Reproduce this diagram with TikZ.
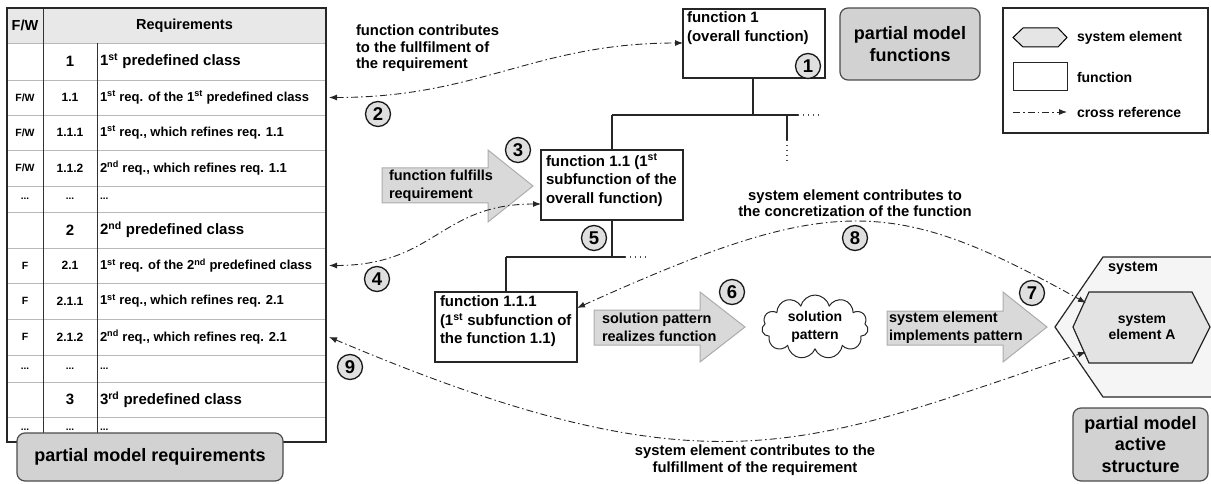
\documentclass[tikz,border=0pt]{standalone}
\usepackage{fontspec}
\setmainfont{Liberation Sans}
\usetikzlibrary{arrows.meta,shapes.symbols}

\newcommand\setfs[2]{\fontsize{#1}{#2}\selectfont\bfseries}

\begin{document}
\begin{tikzpicture}[x=1pt,y=-1pt,
  every node/.style={inner sep=0pt, outer sep=0pt},
  edge/.style={draw=black!85, line width=1.2pt},
  dotted edge/.style={draw=black!70, line width=1.1pt, dash pattern=on 1pt off 4pt},
  fbox/.style={draw=black!85, line width=1.3pt, fill=white, minimum width=142pt, minimum height=70pt},
  ftext/.style={font=\setfs{15}{18.5}, align=left, anchor=north west},
  note/.style={font=\setfs{14.8}{16.5}, align=left},
  pmbox/.style={draw=black!70, line width=1.2pt, fill=gray!35, rounded corners=8pt, font=\setfs{18}{21.5}, align=center},
  num/.style={circle, draw=black!90, line width=1.3pt, fill=gray!25, minimum size=25pt, font=\setfs{18.5}{18.5}},
  blockarrow/.style={draw=gray!65, line width=1pt, fill=gray!30},
  arrowtext/.style={font=\setfs{14.5}{17.5}, align=left, anchor=west},
  xref/.style={draw=black!85, line width=0.9pt, dash pattern=on 7pt off 3pt on 1.5pt off 3pt,
    {Latex[length=8pt,width=6pt]}-{Latex[length=8pt,width=6pt]}},
  thead/.style={font=\setfs{14.5}{16}},
  tfw/.style={font=\setfs{10.5}{12}},
  tnum/.style={font=\setfs{12}{14}},
  tcls/.style={font=\setfs{15}{17}},
  trow/.style={font=\setfs{13}{15}, anchor=west},
  tdots/.style={font=\setfs{10}{12}},
]
\useasboundingbox (0,0) rectangle (1211,484);
\clip (0,0) rectangle (1211,484);

% ---------------- requirements table ----------------
\fill[gray!18] (7,8) rectangle (326,43);
\foreach \y in {43,80,115,150,186,212,248,283,319,355,382,417}
  \draw[gray!55, line width=0.8pt] (7,\y) -- (326,\y);
\draw[black!80, line width=0.9pt] (43,8) -- (43,442);
\draw[black!80, line width=0.9pt] (97,43) -- (97,442);
\draw[black!85, line width=1.6pt] (7,8) rectangle (326,442);

\node[thead] (hfw)  at (25,25.5)  {F/W};
\node[thead] (hreq) at (184.5,25.5) {Requirements};

\node[tcls] (n1) at (70,61.5) {1};
\node[tcls, anchor=west] (t1) at (100,61.5) {1\textsuperscript{st} predefined class};

\node[tfw] (f11) at (25,97.5) {F/W};
\node[tnum] (n11) at (70,97.5) {1.1};
\node[trow] (t11) at (100,97.5) {1\textsuperscript{st} req. of the 1\textsuperscript{st} predefined class};

\node[tfw] (f111) at (25,132.5) {F/W};
\node[tnum] (n111) at (70,132.5) {1.1.1};
\node[trow] (t111) at (100,132.5) {1\textsuperscript{st} req., which refines req. 1.1};

\node[tfw] (f112) at (25,168) {F/W};
\node[tnum] (n112) at (70,168) {1.1.2};
\node[trow] (t112) at (100,168) {2\textsuperscript{nd} req., which refines req. 1.1};

\node[tdots] (fd1) at (25,199) {...};
\node[tdots] (nd1) at (70,199) {...};
\node[tdots, anchor=west] (td1) at (100,199) {...};

\node[tcls] (n2) at (70,230) {2};
\node[tcls, anchor=west] (t2) at (100,230) {2\textsuperscript{nd} predefined class};

\node[tfw] (f21) at (25,265.5) {F};
\node[tnum] (n21) at (70,265.5) {2.1};
\node[trow] (t21) at (100,265.5) {1\textsuperscript{st} req. of the 2\textsuperscript{nd} predefined class};

\node[tfw] (f211) at (25,301) {F};
\node[tnum] (n211) at (70,301) {2.1.1};
\node[trow] (t211) at (100,301) {1\textsuperscript{st} req., which refines req. 2.1};

\node[tfw] (f212) at (25,337) {F};
\node[tnum] (n212) at (70,337) {2.1.2};
\node[trow] (t212) at (100,337) {2\textsuperscript{nd} req., which refines req. 2.1};

\node[tdots] (fd2) at (25,368.5) {...};
\node[tdots] (nd2) at (70,368.5) {...};
\node[tdots, anchor=west] (td2) at (100,368.5) {...};

\node[tcls] (n3) at (70,399.5) {3};
\node[tcls, anchor=west] (t3) at (100,399.5) {3\textsuperscript{rd} predefined class};

\node[tdots] (fd3) at (25,429.5) {...};
\node[tdots] (nd3) at (70,429.5) {...};
\node[tdots, anchor=west] (td3) at (100,429.5) {...};

\coordinate (r11e)  at (329,97.5);
\coordinate (r21e)  at (329,265.5);
\coordinate (r212e) at (329,337);

\node[pmbox, minimum width=266pt, minimum height=48pt] (pmreq) at (150,457) {partial model requirements};

% ---------------- function hierarchy ----------------
\node[fbox, anchor=north west, minimum height=69pt] (fn1) at (683,9) {};
\node[ftext] (fn1t) at (687,12) {function 1\\(overall function)};

\node[fbox, anchor=north west] (fn11) at (541,150) {};
\node[ftext] (fn11t) at (546,154) {function 1.1 (1\textsuperscript{st}\\subfunction of the\\overall function)};

\node[fbox, anchor=north west] (fn111) at (435,292) {};
\node[ftext] (fn111t) at (440,296) {function 1.1.1\\(1\textsuperscript{st} subfunction of\\the function 1.1)};

\coordinate (j1)  at (753,115);
\coordinate (j1l) at (612,115);
\coordinate (j1r) at (798,115);
\coordinate (j1d) at (822,115);
\coordinate (b1)  at (787,115);
\coordinate (b1e) at (787,140);
\coordinate (b1d) at (787,162);
\coordinate (j2)  at (612,257);
\coordinate (j2l) at (506,257);
\coordinate (j2r) at (625,257);
\coordinate (j2d) at (647,257);

\draw[edge] (fn1.south -| j1) -- (j1);
\draw[edge] (j1l) -- (j1r);
\draw[dotted edge] (j1r) -- (j1d);
\draw[edge] (j1l) -- (fn11.north -| j1l);
\draw[edge] (b1) -- (b1e);
\draw[dotted edge] (b1e) -- (b1d);
\draw[edge] (fn11.south -| j2) -- (j2);
\draw[edge] (j2l) -- (j2r);
\draw[dotted edge] (j2r) -- (j2d);
\draw[edge] (j2l) -- (fn111.north -| j2l);

\node[pmbox, minimum width=140pt, minimum height=72pt] (pmfn) at (910,44) {partial model\\functions};

% ---------------- legend ----------------
\node[draw=black!85, line width=1.3pt, fill=white, minimum width=205pt, minimum height=125pt] (legend) at (1105.5,70.5) {};
\draw[line width=1pt, fill=gray!20] (1013,37.5) -- (1023,28) -- (1058,28) -- (1067,37.5) -- (1058,47) -- (1023,47) -- cycle;
\node[draw=black!85, line width=1pt, minimum width=54pt, minimum height=28pt] (legfn) at (1040,77) {};
\coordinate (legxa) at (1013,112);
\coordinate (legxb) at (1067,112);
\draw[draw=black!85, line width=0.9pt, dash pattern=on 7pt off 3pt on 1.5pt off 3pt, -{Latex[length=8pt,width=6pt]}] (legxa) -- (legxb);
\node[font=\setfs{14}{16}, anchor=west] (legt1) at (1077,37.5) {system element};
\node[font=\setfs{14}{16}, anchor=west] (legt2) at (1077,77) {function};
\node[font=\setfs{14}{16}, anchor=west] (legt3) at (1077,112) {cross reference};

% ---------------- active structure ----------------
\draw[black!85, line width=1.2pt, fill=gray!8] (1055,327) -- (1103,257) -- (1260,257) -- (1260,397) -- (1103,397) -- cycle;
\node[font=\setfs{14.5}{16}, anchor=west] (sys) at (1108,268) {system};
\draw[black!85, line width=1.2pt, fill=gray!22] (1073,327) -- (1089,292) -- (1192,292) -- (1210,327) -- (1192,363) -- (1089,363) -- cycle;
\node[font=\setfs{14}{16}, align=center] (seA) at (1142,327) {system\\element A};
\coordinate (seAul) at (1086,303);
\coordinate (seAll) at (1086,352);

\node[pmbox, minimum width=135pt, minimum height=73pt] (pmas) at (1140.5,444.5) {partial model\\active\\structure};

% ---------------- solution pattern chain ----------------
\path[blockarrow] (382,168) -- (488,168) -- (488,150) -- (533,186) -- (488,222) -- (488,203) -- (382,203) -- cycle;
\node[arrowtext] (a3t) at (389,186) {function fulfills\\requirement};

\path[blockarrow] (594,310) -- (700,310) -- (700,292) -- (745,327) -- (700,362) -- (700,345) -- (594,345) -- cycle;
\node[arrowtext] (a6t) at (602,327.5) {solution pattern\\realizes function};

\node[cloud, draw=black!85, line width=1pt, fill=white, cloud puffs=11, aspect=2.3,
      minimum width=106pt, minimum height=47pt, font=\setfs{14}{18}, align=center] (pat) at (815,327) {solution\\pattern};

\path[blockarrow] (887,311) -- (1003,311) -- (1003,292) -- (1047,327) -- (1003,362) -- (1003,345) -- (887,345) -- cycle;
\node[arrowtext] (a7t) at (889,327.5) {system element\\implements pattern};

% ---------------- cross references ----------------
\draw[xref] (r11e) .. controls (480,97.5) and (535,43) .. (fn1.west |- 0,43);
\draw[xref] (r21e) .. controls (435,265.5) and (440,204) .. (fn11.west |- 0,204);
\draw[xref] (r212e) .. controls (716,501) and (810,443) .. (seAll);
\draw[xref] (fn111.east |- 0,308) .. controls (832,193) and (892,195) .. (seAul);

\node[note, anchor=west] (x2t) at (356,48.5) {function contributes\\to the fullfilment of\\the requirement};
\node[note, align=center] (x8t) at (855,203) {system element contributes to\\the concretization of the function};
\node[note, align=center] (x9t) at (755,460) {system element contributes to the\\fulfillment of the requirement};

% ---------------- numbered markers ----------------
\node[num] (c1) at (808,66) {1};
\node[num] (c2) at (378,114) {2};
\node[num] (c3) at (518,150) {3};
\node[num] (c4) at (377,279) {4};
\node[num] (c5) at (594,238) {5};
\node[num] (c6) at (732,292) {6};
\node[num] (c7) at (1032,293) {7};
\node[num] (c8) at (855,238) {8};
\node[num] (c9) at (350,367) {9};
\end{tikzpicture}
\end{document}
